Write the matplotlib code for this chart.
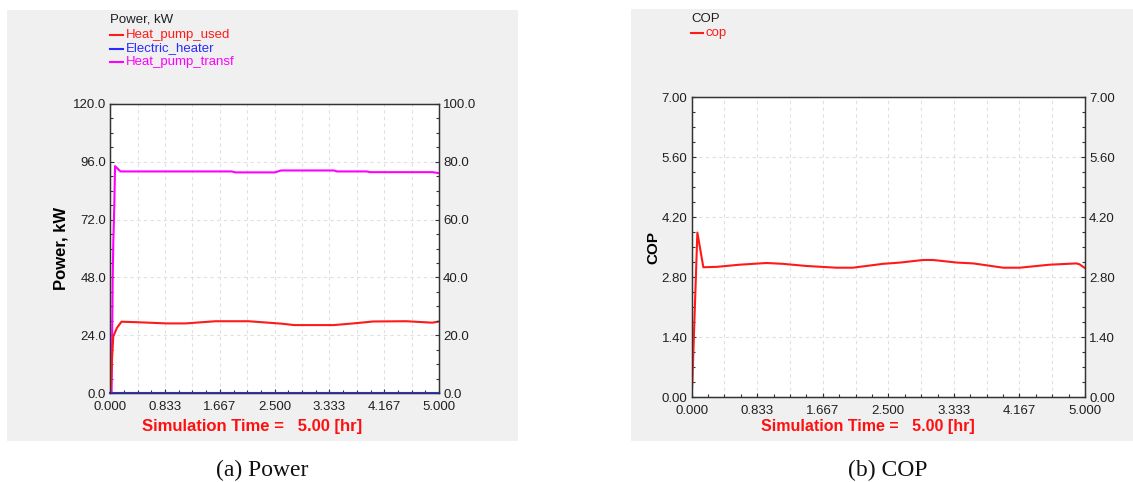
import matplotlib
matplotlib.use("Agg")
import matplotlib.pyplot as plt
from matplotlib.patches import Rectangle
from matplotlib.ticker import MultipleLocator

plt.rcParams['font.family'] = ['Liberation Sans', 'DejaVu Sans']

# ---------------- data ----------------
x_ticks = [0.0, 0.833, 1.667, 2.5, 3.333, 4.167, 5.0]
x_tick_labels = ["0.000", "0.833", "1.667", "2.500", "3.333", "4.167", "5.000"]

power_left_ticks = [0, 24, 48, 72, 96, 120]
power_right_ticks = [0, 20, 40, 60, 80, 100]
cop_ticks = [0, 1.4, 2.8, 4.2, 5.6, 7.0]

t_hp_used = [0, 0.01, 0.03, 0.045, 0.1, 0.17, 0.4, 0.85, 1.15, 1.6, 2.1, 2.6,
             2.8, 3.4, 3.7, 4.0, 4.5, 4.9, 5.0]
hp_used = [0, 4, 16, 23.5, 27, 29.6, 29.4, 28.9, 28.9, 29.8, 29.8, 28.8,
           28.2, 28.2, 28.9, 29.7, 29.8, 29.2, 29.7]

t_hp_transf = [0, 0.02, 0.036, 0.046, 0.061, 0.072, 0.155, 1.85, 1.9, 2.5,
               2.6, 3.4, 3.45, 3.9, 3.95, 4.9, 5.0]
hp_transf = [0, 0, 47, 63, 78, 94.2, 92.0, 92.0, 91.6, 91.6,
             92.4, 92.4, 92.0, 92.0, 91.7, 91.7, 91.3]

t_heater = [0, 5.0]
heater = [0, 0]

t_cop = [0, 0.01, 0.072, 0.148, 0.32, 0.61, 0.95, 1.16, 1.46, 1.84, 2.05,
         2.43, 2.65, 2.94, 3.07, 3.37, 3.58, 3.96, 4.17, 4.55, 4.89, 4.93, 5.0]
cop = [0, 0.44, 3.84, 3.03, 3.04, 3.09, 3.13, 3.11, 3.06, 3.02, 3.02,
       3.11, 3.14, 3.20, 3.20, 3.14, 3.12, 3.02, 3.02, 3.09, 3.12, 3.10, 3.01]

RED = "#ff1a1a"
BLUE = "#2a2aff"
MAG = "#ff00ff"
GRAY_BG = "#f0f0f0"
TXT = "#202020"

W, H = 1133, 482
fig = plt.figure(figsize=(W / 100, H / 100), dpi=100)
fig.patch.set_facecolor("white")


def fx(px):
    return px / W


def fy(py):
    return 1 - py / H


# gray panels (drawn below axes)
fig.patches.append(Rectangle((fx(7), fy(441)), fx(518) - fx(7), fy(10) - fy(441),
                             transform=fig.transFigure, facecolor=GRAY_BG,
                             edgecolor="none", zorder=-5))
fig.patches.append(Rectangle((fx(631), fy(441)), fx(1133) - fx(631), fy(9) - fy(441),
                             transform=fig.transFigure, facecolor=GRAY_BG,
                             edgecolor="none", zorder=-5))


def style_axes(ax, ymax, yticks, ylabels, ymin_step, grid_x_step, xpad):
    ax.set_facecolor("white")
    ax.set_xlim(0, 5.0)
    ax.set_ylim(0, ymax)
    ax.set_xticks(x_ticks)
    ax.set_xticklabels(x_tick_labels)
    ax.set_yticks(yticks)
    ax.set_yticklabels(ylabels)
    ax.xaxis.set_minor_locator(MultipleLocator(5.0 / 24))
    ax.yaxis.set_minor_locator(MultipleLocator(ymin_step))
    ax.tick_params(which="major", direction="in", length=3, width=0.8,
                   colors="#333333", labelcolor=TXT, labelsize=9.5)
    ax.tick_params(axis="x", which="major", pad=xpad)
    ax.tick_params(axis="y", which="major", pad=3)
    ax.tick_params(which="minor", direction="in", length=2, width=0.8,
                   colors="#333333")
    for s in ax.spines.values():
        s.set_color("#333333")
        s.set_linewidth(1.0)
    gx = [i * grid_x_step for i in range(1, 12)]
    for g in gx:
        ax.axvline(g, color="#e0e0e0", lw=0.8, ls=(0, (3, 3)), zorder=0)
    for g in yticks[1:-1]:
        ax.axhline(g, color="#e0e0e0", lw=0.8, ls=(0, (3, 3)), zorder=0)


def style_twin(axb, ymax, ticks, labels, minor):
    axb.set_ylim(0, ymax)
    axb.set_yticks(ticks)
    axb.set_yticklabels(labels)
    axb.yaxis.set_minor_locator(MultipleLocator(minor))
    axb.tick_params(which="major", direction="in", length=3, width=0.8,
                    colors="#333333", labelcolor=TXT, labelsize=9.5, pad=3)
    axb.tick_params(which="minor", direction="in", length=2, width=0.8,
                    colors="#333333")
    for s in axb.spines.values():
        s.set_color("#333333")


# ---------------- (a) Power ----------------
ax1 = fig.add_axes([fx(110.3), fy(393), fx(439) - fx(110.3), fy(104) - fy(393)])
style_axes(ax1, 120, power_left_ticks, [f"{v:.1f}" for v in power_left_ticks], 6, 5.0 / 12, 6)
ax1.plot(t_hp_transf, hp_transf, color=MAG, lw=1.5, zorder=3)
ax1.plot(t_hp_used, hp_used, color=RED, lw=1.5, zorder=3)
ax1.plot(t_heater, heater, color=BLUE, lw=1.5, zorder=4, clip_on=False)
ax1.set_ylabel("Power, kW", fontsize=12, fontweight="bold", color="black", labelpad=3)
ax1b = ax1.twinx()
style_twin(ax1b, 100, power_right_ticks, [f"{v:.1f}" for v in power_right_ticks], 5)

fig.text(fx(252), fy(426), "Simulation Time =   5.00 [hr]", color="#ff1010",
         fontsize=12, fontweight="bold", ha="center", va="center")

fig.text(fx(110), fy(19), "Power, kW", fontsize=9.5, color=TXT, ha="left", va="center")
leg_items = [("Heat_pump_used", RED, 35), ("Electric_heater", BLUE, 48.5),
             ("Heat_pump_transf", MAG, 62)]
for lab, col, yy in leg_items:
    fig.lines.append(plt.Line2D([fx(110), fx(123)], [fy(yy), fy(yy)], color=col,
                                lw=1.5, transform=fig.transFigure))
    fig.text(fx(126), fy(yy), lab, fontsize=9.5, color=col, ha="left", va="center")

# ---------------- (b) COP ----------------
ax2 = fig.add_axes([fx(691.7), fy(397), fx(1085) - fx(691.7), fy(97.3) - fy(397)])
style_axes(ax2, 7.0, cop_ticks, [f"{v:.2f}" for v in cop_ticks], 0.35, 5.0 / 12, 6)
ax2.plot(t_cop, cop, color=RED, lw=1.5, zorder=3)
ax2.set_ylabel("COP", fontsize=11, fontweight="bold", color="black", labelpad=1)
ax2b = ax2.twinx()
style_twin(ax2b, 7.0, cop_ticks, [f"{v:.2f}" for v in cop_ticks], 0.35)

fig.text(fx(867.5), fy(427), "Simulation Time =   5.00 [hr]", color="#ff1010",
         fontsize=11.5, fontweight="bold", ha="center", va="center")

fig.text(fx(691), fy(18.5), "COP", fontsize=9.5, color=TXT, ha="left", va="center")
fig.lines.append(plt.Line2D([fx(691), fx(703)], [fy(32.7), fy(32.7)], color=RED,
                            lw=1.5, transform=fig.transFigure))
fig.text(fx(706), fy(33), "cop", fontsize=9.5, color=RED, ha="left", va="center")

# captions
fig.text(fx(262), fy(470), "(a) Power", fontsize=17, ha="center", va="center",
         family=["Liberation Serif", "DejaVu Serif"], color="#111111")
fig.text(fx(888), fy(470), "(b) COP", fontsize=17, ha="center", va="center",
         family=["Liberation Serif", "DejaVu Serif"], color="#111111")

fig.savefig("out.png", dpi=100, facecolor="white")
